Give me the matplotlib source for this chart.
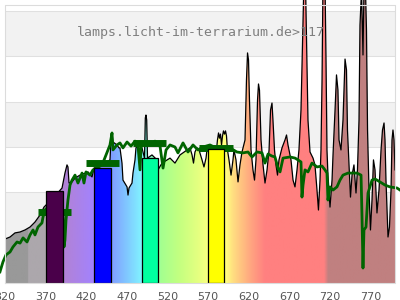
import numpy as np
import matplotlib
matplotlib.use("Agg")
import matplotlib.pyplot as plt
from matplotlib.patches import Polygon
from matplotlib.colors import to_rgb

# Lampenspektrum (Wellenlaenge nm, relative Intensitaet)
spec_wl = [320, 326.2, 332.3, 338.5, 344.6, 350.8, 356.9, 363.1, 368.0, 370.5,
           380.3, 390.2, 391.4, 393.8, 396.3, 397.5, 398.8, 402.5, 406.2, 412.3,
           418.5, 422.2, 427.1, 429.5, 439.4, 449.2, 450.5, 451.7, 452.9, 457.8,
           460.3, 461.5, 464.0, 465.2, 470.2, 471.4, 472.6, 476.3, 477.5, 480.0,
           481.2, 483.7, 484.9, 486.2, 487.4, 488.6, 491.7, 492.7, 493.5, 494.4,
           495.4, 500.9, 507.1, 508.3, 513.2, 519.4, 523.1, 529.2, 535.4, 544.0,
           547.7, 550.2, 552.0, 553.8, 556.3, 558.8, 562.5, 564.9, 567.4, 568.6,
           574.8, 580.3, 581.5, 582.8, 584.0, 585.2, 586.5, 587.7, 588.9, 590.2,
           591.4, 592.6, 593.8, 595.7, 598.2, 600.6, 601.8, 604.3, 606.8, 609.2,
           611.7, 615.4, 617.2, 618.5, 619.7, 620.9, 622.8, 625.2, 627.1, 628.9,
           630.8, 632.0, 633.2, 635.1, 637.6, 640.0, 642.5, 645.0, 646.8, 648.6,
           649.8, 651.7, 653.5, 655.4, 657.2, 660.9, 664.6, 666.5, 668.3, 672.0,
           674.5, 676.9, 679.4, 681.8, 684.3, 686.2, 688.0, 689.8, 691.1, 692.9,
           695.4, 699.1, 701.5, 704.0, 705.8, 707.7, 708.9, 710.2, 711.4, 713.8,
           715.1, 716.3, 717.5, 720.0, 722.5, 723.7, 726.2, 728.0, 729.8, 731.1,
           733.5, 736.0, 738.5, 740.3, 741.5, 743.4, 745.2, 747.1, 749.5, 752.0,
           753.8, 755.7, 756.9, 758.8, 760.6, 761.8, 763.7, 764.9, 766.2, 768.0,
           769.8, 771.7, 773.5, 775.4, 777.8, 780.3, 782.8, 784.6, 786.5, 787.7,
           788.9, 791.4, 793.2, 795.1, 796.3, 797.5, 798.8, 800]
spec_val = [19.4, 20.3, 22.1, 22.5, 23.4, 24.7, 26.9, 30.0, 33.5, 34.4,
            37.9, 41.9, 44.1, 48.5, 52.1, 51.2, 44.1, 44.6, 46.3, 47.6,
            48.5, 49.0, 46.8, 50.7, 52.1, 54.3, 63.1, 65.7, 62.2, 60.9,
            59.6, 59.6, 52.9, 45.4, 42.4, 38.8, 41.9, 44.1, 48.5, 54.3,
            59.6, 60.9, 56.5, 55.1, 58.7, 59.6, 55.1, 72.8, 74.1, 71.9,
            55.1, 56.5, 54.3, 49.9, 52.9, 54.3, 55.1, 52.9, 56.5, 58.7,
            59.6, 56.5, 52.9, 57.8, 59.6, 58.7, 54.3, 51.2, 55.1, 58.7,
            58.7, 58.7, 63.1, 66.2, 63.9, 65.7, 60.9, 64.9, 67.1, 65.7,
            67.1, 64.9, 58.7, 54.3, 47.6, 54.3, 58.7, 54.3, 44.6, 52.1,
            57.8, 63.1, 89.6, 101.5, 98.4, 80.7, 58.7, 49.9, 45.4, 54.3,
            80.7, 87.8, 85.1, 63.1, 52.1, 44.1, 49.9, 58.7, 76.3, 79.4,
            71.9, 58.7, 52.1, 47.6, 54.3, 59.6, 63.1, 65.3, 60.9, 54.3,
            45.4, 42.4, 49.9, 58.7, 76.3, 107.2, 133.7, 133.7, 107.2, 71.9,
            57.8, 55.1, 52.1, 41.0, 32.2, 45.4, 58.7, 89.6, 133.7, 133.7,
            98.4, 58.7, 47.6, 33.5, 45.4, 56.5, 76.3, 91.8, 85.1, 63.1,
            58.7, 71.9, 98.8, 94.0, 67.5, 52.1, 37.9, 47.6, 52.1, 39.7,
            49.9, 71.9, 113.8, 129.3, 100.6, 129.3, 129.3, 111.6, 67.5, 41.0,
            23.4, 36.6, 54.3, 49.9, 30.9, 41.0, 58.7, 67.5, 70.6, 63.1,
            45.4, 20.3, 24.7, 41.0, 63.1, 67.5, 63.1, 49.9]

# Vergleichsspektrum (gruen)
green_wl = [313.8, 317.5, 321.2, 326.2, 329.8, 334.8, 338.5, 342.2, 347.1, 350.8,
            354.5, 356.9, 360.6, 365.5, 366.8, 369.2, 381.5, 391.4, 392.6, 393.8,
            395.1, 397.5, 400.0, 402.5, 406.2, 409.8, 414.8, 417.2, 419.7, 424.6,
            428.3, 439.4, 449.2, 451.7, 452.9, 457.8, 461.5, 465.2, 470.2, 475.1,
            480.0, 483.7, 486.2, 487.4, 492.3, 498.5, 504.6, 510.8, 514.5, 518.2,
            523.1, 529.2, 532.9, 539.1, 545.2, 551.4, 557.5, 563.7, 572.3, 584.6,
            596.9, 605.4, 612.8, 619.1, 624.0, 630.2, 636.3, 640.0, 643.8, 648.6,
            652.3, 656.0, 658.5, 662.2, 670.8, 677.0, 680.6, 684.3, 685.5, 686.8,
            689.2, 692.9, 697.8, 704.0, 710.2, 713.8, 716.3, 717.5, 720.0, 723.7,
            728.6, 732.3, 736.0, 742.2, 753.2, 758.2, 759.4, 760.6, 761.8, 764.3,
            766.8, 771.7, 775.4, 781.5, 787.7, 793.8, 802.5, 806.2]
green_val = [4.9, 9.3, 12.4, 13.7, 15.9, 18.1, 17.6, 19.9, 18.1, 21.2,
             23.4, 21.2, 24.7, 26.5, 29.1, 32.2, 36.6, 30.9, 15.9, 19.0,
             27.8, 36.6, 43.2, 45.4, 47.6, 44.1, 48.5, 44.1, 49.0, 47.6,
             49.9, 52.0, 60.9, 66.2, 58.7, 60.9, 61.8, 59.6, 62.2, 60.4,
             62.6, 60.4, 49.9, 60.0, 62.2, 60.9, 62.6, 60.4, 50.7, 58.7,
             60.9, 60.0, 57.4, 61.8, 57.8, 60.9, 58.7, 60.0, 60.9, 58.7,
             59.6, 57.8, 57.4, 57.8, 55.6, 57.8, 57.4, 52.9, 56.9, 56.0,
             55.6, 50.7, 49.0, 55.1, 55.6, 55.1, 54.3, 53.4, 37.9, 43.2,
             49.9, 49.0, 52.9, 51.2, 51.6, 49.9, 48.5, 36.6, 42.4, 41.0,
             42.4, 45.4, 47.6, 48.5, 48.5, 47.6, 29.1, 6.6, 23.4, 24.7,
             39.7, 45.4, 45.9, 44.6, 43.2, 42.4, 41.9, 41.0]

# LED-Balken
bar_wl = [381, 440, 498, 579.5]
bar_val = [40.6, 50.7, 55.1, 59.1]
bar_colors = ['#4a004a', '#0000ff', '#00ff9f', '#ffff00']
mark_val = [31.3, 53.1, 61.8, 59.6]

# Farbverlauf unter dem Spektrum
grad_wl = [320, 348, 348.5, 378, 388, 430, 452, 470, 487, 505, 512, 535,
           560, 572, 592, 600, 612, 625, 640, 713, 718, 800]
grad_col = ['#999999', '#999999', '#aca7ac', '#aca7ac', '#b482d0', '#a282ff',
            '#80a0ff', '#80c8ff', '#80f0ff', '#90ffb0', '#a4ff90', '#c4ff80',
            '#e8ff80', '#ffff80', '#ffff80', '#ffe080', '#ffc080', '#ffa080',
            '#ff8080', '#ff8080', '#c08080', '#c08080']

tick_wl = [320, 370, 420, 470, 520, 570, 620, 670, 720, 770]

fig = plt.figure(figsize=(4, 3), dpi=100)
ax = fig.add_axes([5 / 400, 17 / 300, 390 / 400, 283 / 300])
ytop = 124.85

# Hintergrund
for lo in (20, 60, 100):
    ax.axhspan(lo, lo + 20, color='#f2f2f2', lw=0, zorder=0)
for v in range(0, 121, 20):
    ax.axhline(v, color='#e0e0e0', lw=0.75, zorder=0.5)

# Spektrum mit Farbverlauf
xs = np.linspace(320, 800, 961)
rgb = np.array([to_rgb(c) for c in grad_col])
img = np.stack([np.interp(xs, grad_wl, rgb[:, i]) for i in range(3)], axis=-1)
poly = Polygon(list(zip([320] + spec_wl + [800], [0] + spec_val + [0])),
               closed=True, transform=ax.transData, facecolor='none', edgecolor='none')
ax.add_patch(poly)
im = ax.imshow(img[np.newaxis, :, :], extent=[320, 800, 0, 140], aspect='auto',
               interpolation='bilinear', zorder=1)
im.set_clip_path(poly)
ax.plot(spec_wl, spec_val, color='black', lw=0.9, zorder=2)

# gruene Kurve und Markierungen
ax.plot(green_wl, green_val, color='#006400', lw=2.0, zorder=3, clip_on=False)
for c, m in zip(bar_wl, mark_val):
    ax.plot([c - 20.5, c + 20.5], [m, m], color='#006400', lw=5,
            solid_capstyle='butt', zorder=3)

ax.bar(bar_wl, bar_val, width=20, color=bar_colors, edgecolor='black',
       linewidth=0.9, zorder=4)

ax.text(561, 110.7, 'lamps.licht-im-terrarium.de>117', family='DejaVu Sans Mono',
        fontsize=9.5, color='#7f7f7f', ha='center', va='center', zorder=5)

# Rahmen
ax.plot([320, 320, 800, 800, 320], [0, 122.65, 122.65, 0, 0], color='#dcdcdc',
        lw=0.8, zorder=10, clip_on=False)

ax.set_xlim(320, 800)
ax.set_ylim(0, ytop)
ax.set_xticks(tick_wl)
ax.set_yticks([])
ax.tick_params(axis='x', length=0, pad=6.5, labelsize=8, labelcolor='#555555')
for s in ax.spines.values():
    s.set_visible(False)
ax.patch.set_alpha(0)

fig.savefig('out.png', dpi=100)
